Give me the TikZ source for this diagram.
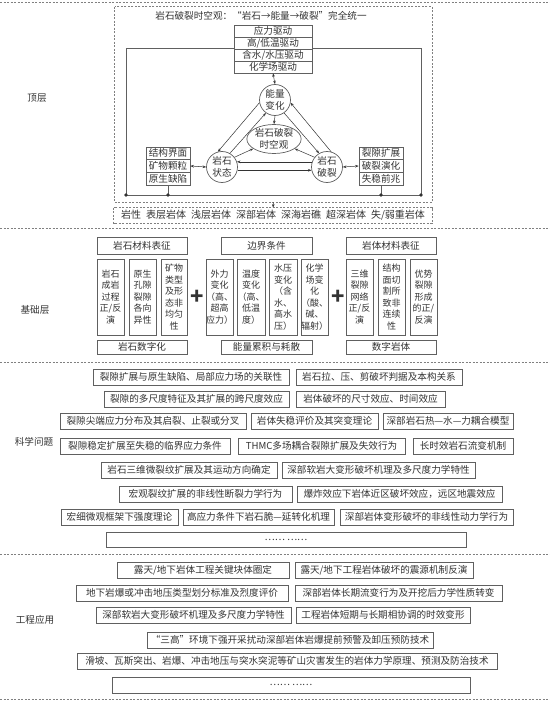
\documentclass[tikz,border=0pt]{standalone}
\usepackage{fontspec}
\setmainfont{Noto Sans CJK SC}
\usetikzlibrary{shapes.geometric,arrows.meta,calc}
\definecolor{ink}{HTML}{333333}
\definecolor{edge}{HTML}{606060}
\tikzset{
  bx/.style={draw=edge, line width=0.7bp, inner sep=0pt, text=ink, fill=white,
    font=\fontsize{9.6bp}{11.5bp}\selectfont},
  vbx/.style={align=center, font=\fontsize{9bp}{11.5bp}\selectfont},
  sepline/.style={draw=edge!80, line width=0.6bp, dash pattern=on 2bp off 1.5bp},
  dashed box/.style={draw=edge!80, line width=0.6bp, dash pattern=on 2bp off 1.5bp},
  tip/.tip={Stealth[length=3.5bp,width=2.6bp]},
  arr/.style={draw=ink, line width=0.5bp, -tip},
  darr/.style={draw=ink, line width=0.5bp, tip-tip},
  lbl/.style={text=ink, font=\fontsize{9.6bp}{11.5bp}\selectfont},
  dotn/.style={circle, fill=ink, inner sep=0pt, minimum size=3.6bp},
  rnd/.style={circle, draw=edge, line width=0.7bp, inner sep=0pt, minimum size=31bp,
    align=center, text=ink, fill=white, font=\fontsize{9.6bp}{11.5bp}\selectfont},
  plus/.style={text=ink, font=\fontsize{22bp}{22bp}\selectfont\bfseries},
}
\newcommand\bxr[7][]{%
  \pgfmathsetmacro\bw{#5-#3}\pgfmathsetmacro\bh{#6-#4}%
  \pgfmathsetmacro\bcx{(#3+#5)/2}\pgfmathsetmacro\bcy{(#4+#6)/2}%
  \node[bx,#1,minimum width=\bw bp,minimum height=\bh bp] (#2) at (\bcx,\bcy) {#7};}
\begin{document}
\begin{tikzpicture}[x=1bp,y=-1bp]
\useasboundingbox (0,0) rectangle (550,704);
% separators
\draw[sepline] (0,2) -- (550,2);
\draw[sepline] (0,228) -- (550,228);
\draw[sepline] (0,362) -- (550,362);
\draw[sepline] (0,554) -- (550,554);
\draw[sepline] (0,699) -- (550,699);
% side labels
\node[lbl] (lab1) at (37,98) {顶层};
\node[lbl] (lab2) at (35,310) {基础层};
\node[lbl] (lab3) at (34,442) {科学问题};
\node[lbl] (lab4) at (35,620) {工程应用};

% ---------- top layer ----------
\bxr[draw=none,fill=none]{tf}{115}{7}{432}{202}{}
\draw[dashed box] (tf.north west) rectangle (tf.south east);
\node[lbl] (title) at (261,16) {岩石破裂时空观：“岩石→能量→破裂”完全统一};
\draw[draw=edge, line width=0.7bp] (126,48) rectangle (421,195);
\coordinate (fbl) at (126,195);
\coordinate (fbr) at (421,195);
\bxr{sb1}{234}{25}{312}{37}{应力驱动}
\bxr{sb2}{234}{37}{312}{49}{高/低温驱动}
\bxr{sb3}{234}{49}{312}{61}{含水/水压驱动}
\bxr{sb4}{234}{61}{312}{73}{化学场驱动}

\node[rnd] (E) at (275,100) {能量\\变化};
\node[rnd] (S) at (222,167) {岩石\\状态};
\node[rnd] (F) at (327,167) {岩石\\破裂};
\node[ellipse, draw=edge, line width=0.7bp, inner sep=0pt, minimum width=49bp,
  minimum height=29bp, align=center, text=ink, fill=white,
  font=\fontsize{9.6bp}{11.5bp}\selectfont] (L) at (274,139) {岩石破裂\\时空观};

\bxr{lb1}{146}{147}{190}{159.7}{结构界面}
\bxr{lb2}{146}{159.7}{190}{172.3}{矿物颗粒}
\bxr{lb3}{146}{172.3}{190}{185}{原生缺陷}
\bxr{rb1}{359}{147}{403}{159.7}{裂隙扩展}
\bxr{rb2}{359}{159.7}{403}{172.3}{破裂演化}
\bxr{rb3}{359}{172.3}{403}{185}{失稳前兆}

\draw[darr] (sb4.south) -- (E.north);
\draw[arr] (E.190) -- (S.105);
\draw[arr] (S.60) -- (E.235);
\draw[arr] (E.305) -- (F.120);
\draw[arr] (F.75) -- (E.350);
\draw[arr] (E.south) -- (L.north);
\draw[arr] (S.38) -- (L.205);
\draw[arr] (F.142) -- (L.335);
\draw[arr] (F.161) -- (S.19);
\draw[arr] (S.-12) -- (F.192);
\draw[darr] (lb2.east) -- (S.west);
\draw[darr] (F.east) -- (rb2.west);

\coordinate (d2) at (lb3.south |- fbl);
\coordinate (d3) at (rb3.south |- fbr);
\draw[draw=edge, line width=0.7bp] (lb3.south) -- (d2);
\draw[draw=edge, line width=0.7bp] (rb3.south) -- (d3);
\node[dotn] (dt1) at (fbl) {};
\node[dotn] (dt2) at (d2) {};
\node[dotn] (dt3) at (d3) {};
\node[dotn] (dt4) at (fbr) {};

\bxr[draw=none,fill=none,font=\fontsize{10bp}{12bp}\selectfont]{lst}{114}{208}{432}{223}%
 {岩性\hspace{5bp}表层岩体\hspace{5bp}浅层岩体\hspace{5bp}深部岩体\hspace{5bp}深海岩礁\hspace{5bp}超深岩体\hspace{5bp}失/弱重岩体}
\draw[dashed box] (lst.north west) rectangle (lst.south east);
\draw[arr] (tf.south) -- (lst.north);

% ---------- base layer ----------
\bxr{h1}{97}{237}{187}{254}{岩石材料表征}
\bxr{h2}{221}{237}{312}{254}{边界条件}
\bxr{h3}{346}{237}{436}{254}{岩体材料表征}

\bxr[vbx]{v1}{97}{259}{124}{335}{岩石\\成岩\\过程\\正/反\\演}
\bxr[vbx]{v2}{129}{259}{156}{335}{原生\\孔隙\\裂隙\\各向\\异性}
\bxr[vbx]{v3}{161}{259}{187}{335}{矿物\\类型\\及形\\态非\\均匀\\性}
\bxr[vbx]{v4}{206}{259}{233}{335}{外力\\变化\\（高、\\超高\\应力）}
\bxr[vbx]{v5}{237}{259}{265}{335}{温度\\变化\\（高、\\低温\\度）}
\bxr[vbx]{v6}{269}{259}{297}{335}{水压\\变化\\（含\\水、\\高水\\压）}
\bxr[vbx]{v7}{301}{259}{328}{335}{化学\\场变\\化\\（酸、\\碱、\\辐射）}
\bxr[vbx]{v8}{346}{259}{373}{335}{三维\\裂隙\\网络\\正/反\\演}
\bxr[vbx]{v9}{378}{259}{405}{335}{结构\\面切\\割所\\致非\\连续\\性}
\bxr[vbx]{v10}{410}{259}{437}{335}{优势\\裂隙\\形成\\的正/\\反演}
\node[plus] (p1) at (197,297) {+};
\node[plus] (p2) at (338,297) {+};

\bxr{f1}{97}{340}{187}{354}{岩石数字化}
\bxr{f2}{221}{340}{312}{354}{能量累积与耗散}
\bxr{f3}{346}{340}{436}{354}{数字岩体}

% ---------- science questions ----------
\bxr{q11}{93}{369}{289}{385}{裂隙扩展与原生缺陷、局部应力场的关联性}
\bxr{q12}{296}{369}{462}{385}{岩石拉、压、剪破坏判据及本构关系}
\bxr{q21}{104}{391}{289}{407}{裂隙的多尺度特征及其扩展的跨尺度效应}
\bxr{q22}{296}{391}{445}{407}{岩体破坏的尺寸效应、时间效应}
\bxr{q31}{60}{413}{246}{429}{裂隙尖端应力分布及其启裂、止裂或分叉}
\bxr{q32}{251}{413}{378}{429}{岩体失稳评价及其突变理论}
\bxr{q33}{383}{413}{513}{429}{深部岩石热—水—力耦合模型}
\bxr{q41}{60}{438}{230}{454}{裂隙稳定扩展至失稳的临界应力条件}
\bxr{q42}{238}{438}{405}{454}{THMC多场耦合裂隙扩展及失效行为}
\bxr{q43}{413}{438}{513}{454}{长时效岩石流变机制}
\bxr{q51}{101}{462}{277}{478}{岩石三维微裂纹扩展及其运动方向确定}
\bxr{q52}{282}{462}{475}{478}{深部软岩大变形破坏机理及多尺度力学特性}
\bxr{q61}{119}{486}{292}{502}{宏观裂纹扩展的非线性断裂力学行为}
\bxr{q62}{297}{486}{502}{502}{爆炸效应下岩体近区破坏效应，远区地震效应}
\bxr{q71}{61}{509}{178}{525}{宏细微观框架下强度理论}
\bxr{q72}{183}{509}{334}{525}{高应力条件下岩石脆—延转化机理}
\bxr{q73}{340}{509}{513}{525}{深部岩体变形破坏的非线性动力学行为}
\bxr{q81}{106}{532}{466}{547}{…… ……}

% ---------- engineering ----------
\bxr{e11}{117}{562}{289}{578}{露天/地下岩体工程关键块体圈定}
\bxr{e12}{295}{562}{473}{578}{露天/地下工程岩体破坏的震源机制反演}
\bxr{e21}{76}{585}{288}{601}{地下岩爆或冲击地压类型划分标准及烈度评价}
\bxr{e22}{295}{585}{502}{601}{深部岩体长期流变行为及开挖后力学性质转变}
\bxr{e31}{96}{607}{291}{623}{深部软岩大变形破坏机理及多尺度力学特性}
\bxr{e32}{296}{607}{470}{623}{工程岩体短期与长期相协调的时效变形}
\bxr{e41}{147}{632}{433}{648}{“三高”环境下强开采扰动深部岩体岩爆提前预警及卸压预防技术}
\bxr{e51}{77}{653}{497}{669}{滑坡、瓦斯突出、岩爆、冲击地压与突水突泥等矿山灾害发生的岩体力学原理、预测及防治技术}
\bxr{e61}{112}{677}{470}{693}{…… ……}
\end{tikzpicture}
\end{document}
